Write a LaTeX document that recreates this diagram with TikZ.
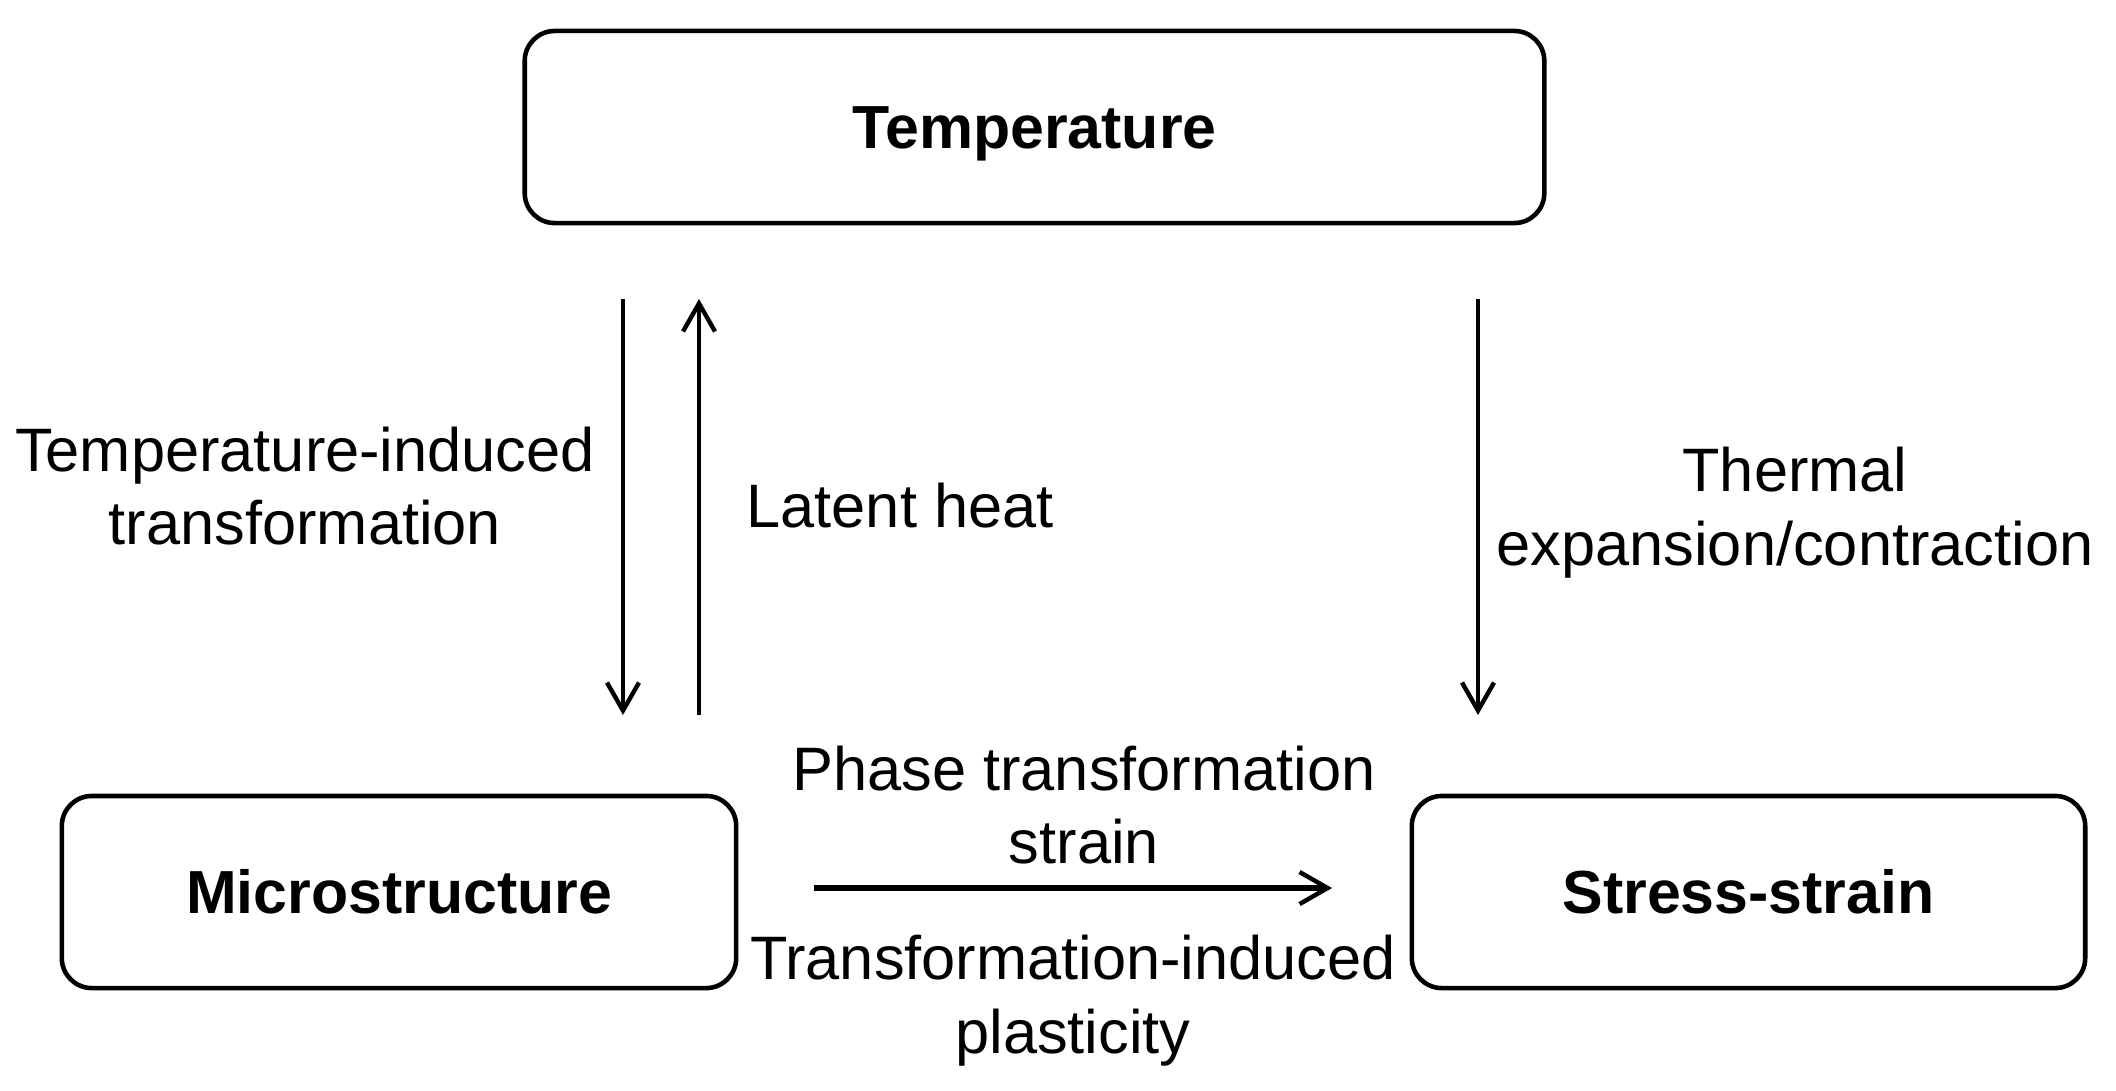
\documentclass[tikz,border=0pt]{standalone}
\usepackage{fontspec}
\setmainfont{Liberation Sans}
\usetikzlibrary{arrows.meta}
\begin{document}
\begin{tikzpicture}[x=0.01cm,y=-0.01cm,
  box/.style={draw, line width=1.3pt, rounded corners=0.3cm, minimum height=1.92cm, font=\fontsize{17.3pt}{20.5pt}\selectfont\bfseries, inner sep=0pt},
  lbl/.style={align=center, font=\fontsize{17.45pt}{21pt}\selectfont, inner sep=0pt},
  conn/.style={line width=1.25pt, -{Straight Barb[length=0.28cm, width=0.32cm, line width=1.25pt]}}]
\useasboundingbox (0,0) rectangle (2116,1090);
\node[box, minimum width=10.19cm] (temp) at (1034.5,127) {\raisebox{-0.07cm}[\height][\depth]{Temperature}};
\node[box, minimum width=6.74cm] (micro) at (399,892) {Microstructure};
\node[box, minimum width=6.73cm] (stress) at (1748.5,892) {Stress-strain};
\coordinate (a1s) at (623,299);
\coordinate (a1e) at (623,715);
\coordinate (a2s) at (699,715);
\coordinate (a2e) at (699,299);
\coordinate (a3s) at (1478,299);
\coordinate (a3e) at (1478,715);
\coordinate (a4s) at (814,888);
\coordinate (a4e) at (1332,888);
\draw[conn] (a1s) -- (a1e);
\draw[conn] (a2s) -- (a2e);
\draw[conn] (a3s) -- (a3e);
\draw[conn, line width=1.5pt] (a4s) -- (a4e);
\node[lbl] (l1) at (305,486) {Temperature-induced\\transformation};
\node[lbl] (l2) at (900,506) {Latent heat};
\node[lbl] (l3) at (1795,513) {Thermal\\expansion/contraction};
\node[lbl] (l4) at (1084,805) {Phase transformation\\strain};
\node[lbl] (l5) at (1073,1001) {Transformation-induced\\plasticity};
\end{tikzpicture}
\end{document}
